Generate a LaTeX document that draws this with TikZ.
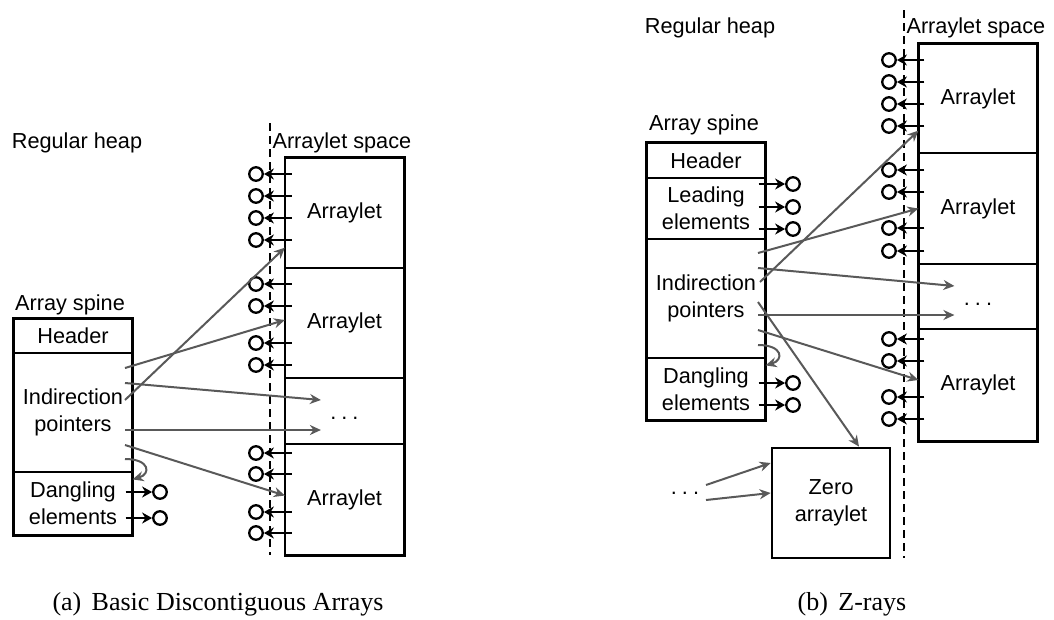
\documentclass[tikz,border=0pt]{standalone}
\usepackage{fontspec}
\setmainfont{Liberation Serif}
\setsansfont{Liberation Sans}
\usetikzlibrary{arrows.meta,calc}

\tikzset{
  every node/.style={font=\sffamily\fontsize{21.7}{27}\selectfont},
  part/.style={draw, line width=1.2pt, minimum width=118pt, inner sep=0pt, align=center},
  frame/.style={draw, line width=2.8pt},
  ref/.style={draw, circle, line width=2.3pt, minimum size=13.5pt, inner sep=0pt},
  slot/.style={-{Stealth[length=10pt,width=11pt]}, line width=2.2pt},
  ptr/.style={-{Stealth[length=11pt,width=10pt]}, line width=2pt, black!65},
  border/.style={line width=2.3pt, dash pattern=on 8pt off 5pt},
  caption/.style={font=\rmfamily\fontsize{26}{30}\selectfont},
  dots/.style={text height=17pt, text depth=0pt},
}
\newcommand{\spread}{.\kern.23em.\kern.23em.}

\begin{document}
\begin{tikzpicture}[x=1pt, y=-1pt]
  \useasboundingbox (0,0) rectangle (1054,619);

  % ---- (a) ----
  % Zonas
  \draw[border] (270,123) -- (270,555);
  \node (heapA) at (77,143) {Regular heap};
  \node[anchor=west] (spaceA) at (269,143) {Arraylet space};

  % Espina
  \node (spineA) at (70,305) {Array spine};
  \node[part, minimum height=34pt]  (hdrA) at (73,336)   {Header};
  \node[part, minimum height=119pt] (ptrA) at (73,412.5) {Indirection\\pointers};
  \node[part, minimum height=63pt]  (dngA) at (73,503.5) {Dangling\\elements};
  \draw[frame] (hdrA.north west) rectangle (dngA.south east);

  % Arraylets
  \node[part, minimum height=110pt] (al1A)  at (344.5,213)   {Arraylet};
  \node[part, minimum height=110pt] (al2A)  at (344.5,323)   {Arraylet};
  \node[part, dots, minimum height=66pt] (dotsA) at (344.5,411) {\spread};
  \node[part, minimum height=111pt] (al3A)  at (344.5,499.5) {Arraylet};
  \draw[frame] (al1A.north west) rectangle (al3A.south east);

  % Referencias
  \foreach \y [count=\i] in {174,196,218,240,284,306,343,365,453,474,512,533} {
    \node[ref] (rA\i) at (256,\y) {};
    \draw[slot] ($(al1A.west |- rA\i)+(7,0)$) -- (rA\i);
  }
  \foreach \y [count=\i] in {492,518} {
    \node[ref] (dA\i) at (160,\y) {};
    \draw[slot] ($(dngA.east |- dA\i)+(-7,0)$) -- (dA\i);
  }

  % Punteros
  \coordinate (pA1) at (125,368);
  \coordinate (pA2) at (125,383);
  \coordinate (pA3) at (125,400);
  \coordinate (pA4) at (125,430);
  \coordinate (pA5) at (125,445);
  \coordinate (pA6) at (125,459);
  \draw[ptr] (pA1) -- ([yshift=3pt]al2A.west);
  \draw[ptr] (pA3) -- ([yshift=21pt]al1A.south west);
  \draw[ptr] (pA2) -- ([shift={(36pt,11pt)}]dotsA.west);
  \draw[ptr] (pA4) -- ([shift={(36pt,-19pt)}]dotsA.west);
  \draw[ptr] (pA5) -- ([yshift=4pt]al3A.west);
  \draw[ptr] (pA6) .. controls (150,459) and (151,474) .. ([yshift=-8pt]dngA.north east);

  \node[caption] (capA) at (218,604) {(a)\hspace{0.4em}Basic Discontiguous Arrays};

  % ---- (b) ----
  % Zonas
  \draw[border] (904,10) -- (904,558);
  \node (heapB) at (710,28) {Regular heap};
  \node[anchor=west] (spaceB) at (903,28) {Arraylet space};

  % Espina
  \node (spineB) at (704,125) {Array spine};
  \node[part, minimum height=35pt]  (hdrB)  at (706,160.5) {Header};
  \node[part, minimum height=61pt]  (leadB) at (706,208.5) {Leading\\elements};
  \node[part, minimum height=119pt] (ptrB)  at (706,298.5) {Indirection\\pointers};
  \node[part, minimum height=62pt]  (dngB)  at (706,389)   {Dangling\\elements};
  \draw[frame] (hdrB.north west) rectangle (dngB.south east);

  % Arraylets
  \node[part, minimum height=109pt] (al1B)  at (978,98.5)  {Arraylet};
  \node[part, minimum height=111pt] (al2B)  at (978,208.5) {Arraylet};
  \node[part, dots, minimum height=65pt] (dotsB) at (978,296.5) {\spread};
  \node[part, minimum height=112pt] (al3B)  at (978,385)   {Arraylet};
  \draw[frame] (al1B.north west) rectangle (al3B.south east);

  % Arraylet cero
  \node[part, frame, minimum height=110pt] (zeroB) at (831,503) {Zero\\arraylet};
  \node (restB) at (685,493) {\spread};
  \coordinate (zB1) at (706,485);
  \coordinate (zB2) at (706,500);
  \draw[ptr] (zB1) -- ([yshift=40pt]zeroB.west);
  \draw[ptr] (zB2) -- ([yshift=10pt]zeroB.west);

  % Referencias
  \foreach \y [count=\i] in {60,82,104,126,170,192,228,251,339,361,397,419} {
    \node[ref] (rB\i) at (889,\y) {};
    \draw[slot] ($(al1B.west |- rB\i)+(6,0)$) -- (rB\i);
  }
  \foreach \y [count=\i] in {184,207,229} {
    \node[ref] (lB\i) at (793,\y) {};
    \draw[slot] ($(leadB.east |- lB\i)+(-7,0)$) -- (lB\i);
  }
  \foreach \y [count=\i] in {383,405} {
    \node[ref] (dB\i) at (793,\y) {};
    \draw[slot] ($(dngB.east |- dB\i)+(-7,0)$) -- (dB\i);
  }

  % Punteros
  \coordinate (pB1) at (758,253);
  \coordinate (pB2) at (758,268);
  \coordinate (pB3) at (760,282);
  \coordinate (pB4) at (758,302);
  \coordinate (pB5) at (758,315);
  \coordinate (pB6) at (758,330);
  \coordinate (pB7) at (758,345);
  \draw[ptr] (pB1) -- (al2B.west);
  \draw[ptr] (pB3) -- ([yshift=23pt]al1B.south west);
  \draw[ptr] (pB2) -- ([shift={(36pt,10.5pt)}]dotsB.west);
  \draw[ptr] (pB5) -- ([shift={(36pt,-18.5pt)}]dotsB.west);
  \draw[ptr] (pB6) -- ([yshift=5pt]al3B.west);
  \draw[ptr] (pB4) -- ([xshift=28pt]zeroB.north);
  \draw[ptr] (pB7) .. controls (783,345) and (784,360) .. ([yshift=-8pt]dngB.north east);

  \node[caption] (capB) at (852,604) {(b)\hspace{0.4em}Z-rays};
\end{tikzpicture}
\end{document}
